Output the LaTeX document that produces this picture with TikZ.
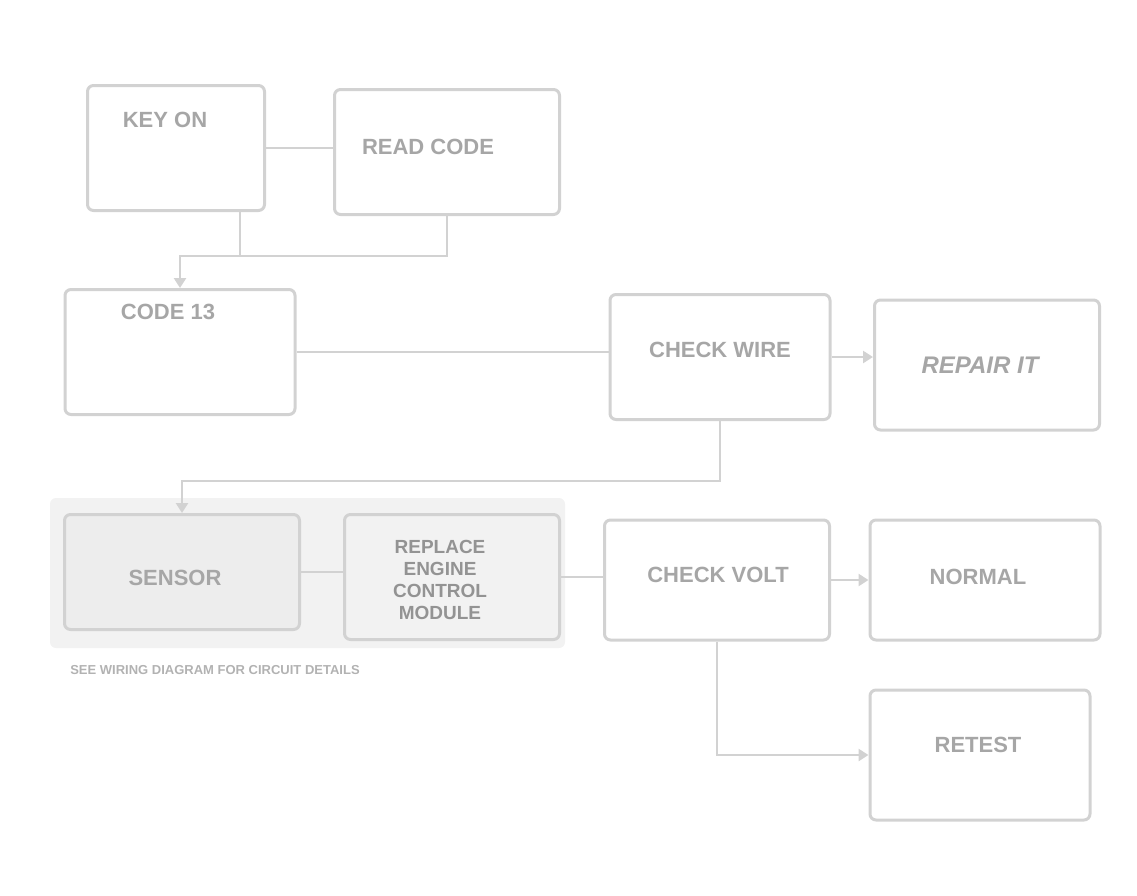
\documentclass[tikz,border=0pt]{standalone}
\usepackage{fontspec}
\setsansfont{Liberation Sans}
\usetikzlibrary{arrows.meta}
\tikzset{
  chartbox/.style={draw=gray!35, line width=3pt, rounded corners=6pt, fill=white},
  chartline/.style={draw=gray!35, line width=2.5pt},
  charttext/.style={text=gray!70, font=\sffamily\bfseries\fontsize{22}{24}\selectfont, align=center},
  flowtip/.style={-{Triangle[length=10pt,width=12pt]}}
}

\begin{document}
\begin{tikzpicture}[x=1pt,y=-1pt]
	\useasboundingbox (0,0) rectangle (1137,895);

	%frame round the two lower left boxes
	\fill[gray!10, rounded corners=6pt] (50,498) rectangle (565,648);

	%boxes of the chart
	\node[chartbox, minimum width=177pt, minimum height=125pt] (start) at (176,148) {};
	\node[chartbox, minimum width=225pt, minimum height=125pt] (ecm) at (447,152) {};
	\node[chartbox, minimum width=230pt, minimum height=125pt] (code) at (180,352) {};
	\node[chartbox, minimum width=220pt, minimum height=125pt] (wire) at (720,357) {};
	\node[chartbox, minimum width=225pt, minimum height=130pt] (repair) at (987,365) {};
	\node[chartbox, minimum width=235pt, minimum height=115pt, fill=gray!14] (sensor) at (182,572) {};
	\node[chartbox, minimum width=215pt, minimum height=125pt, fill=gray!10] (replace) at (452,577) {};
	\node[chartbox, minimum width=225pt, minimum height=120pt] (volt) at (717,580) {};
	\node[chartbox, minimum width=230pt, minimum height=120pt] (normal) at (985,580) {};
	\node[chartbox, minimum width=220pt, minimum height=130pt] (retest) at (980,755) {};

	%texts
	\node[charttext] (startT) at (165,120) {KEY ON};
	\node[charttext] (ecmT) at (428,147) {READ CODE};
	\node[charttext] (codeT) at (168,312) {CODE 13};
	\node[charttext] (wireT) at (720,350) {CHECK WIRE};
	\node[charttext, font=\sffamily\bfseries\itshape\fontsize{24}{26}\selectfont] (repairT) at (980,365) {REPAIR IT};
	\node[charttext] (sensorT) at (175,578) {SENSOR};
	\node[charttext, text=gray!85, font=\sffamily\bfseries\fontsize{19}{22}\selectfont] (replaceT) at (440,580) {REPLACE\\ENGINE\\CONTROL\\MODULE};
	\node[charttext] (voltT) at (718,575) {CHECK VOLT};
	\node[charttext] (normalT) at (978,577) {NORMAL};
	\node[charttext] (retestT) at (978,745) {RETEST};
	\node[charttext, text=gray!60, font=\sffamily\bfseries\fontsize{13}{15}\selectfont] (note) at (215,670) {SEE WIRING DIAGRAM FOR CIRCUIT DETAILS};

	%connectors
	\coordinate (join) at (240,255);
	\draw[chartline] (start.east) -- (start.east -| ecm.west);
	\draw[chartline] (join |- start.south) -- (join);
	\draw[chartline, flowtip] (ecm.south) -- ++(0,40) -| (code.north);
	\draw[chartline] (code.east) -- (code.east -| wire.west);
	\draw[chartline, flowtip] (wire.east) -- (wire.east -| repair.west);
	\draw[chartline, flowtip] (wire.south) -- ++(0,60) -| (sensor.north);
	\draw[chartline] (sensor.east) -- (sensor.east -| replace.west);
	\draw[chartline] (replace.east) -- (replace.east -| volt.west);
	\draw[chartline, flowtip] (volt.east) -- (volt.east -| normal.west);
	\draw[chartline, flowtip] (volt.south) |- (retest.west);
\end{tikzpicture}
\end{document}
